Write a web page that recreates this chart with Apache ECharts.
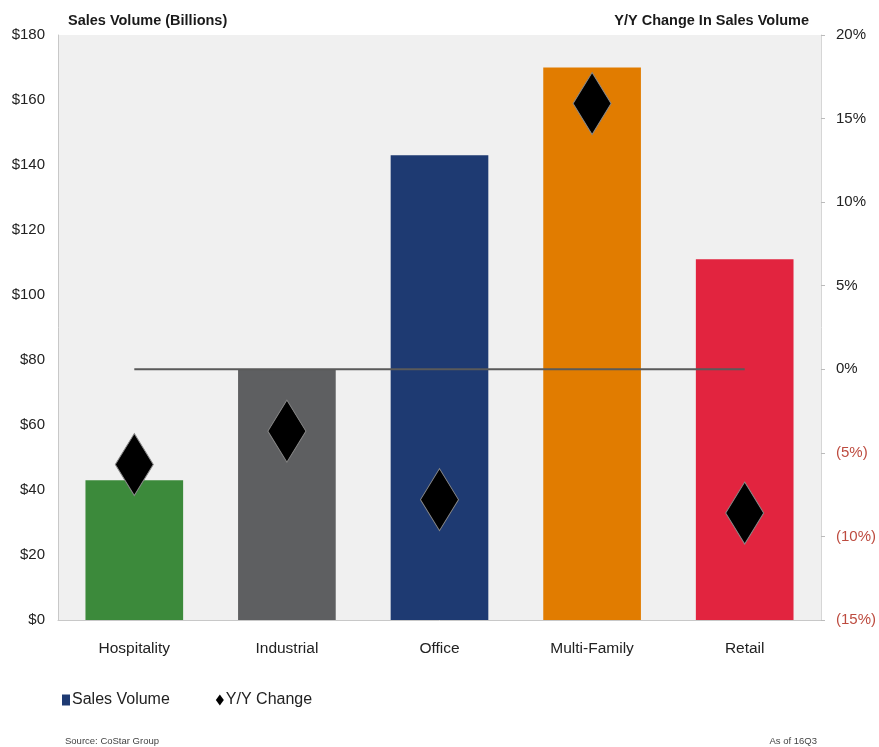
<!DOCTYPE html>
<html>
<head>
<meta charset="utf-8">
<script src="https://cdn.jsdelivr.net/npm/echarts@6/dist/echarts.min.js"></script>
<style>
html,body{margin:0;padding:0;background:#fff;}
#c{width:879px;height:747px;}
</style>
</head>
<body>
<div id="c"></div>
<script>
var categories = ['Hospitality', 'Industrial', 'Office', 'Multi-Family', 'Retail'];
var salesVolume = [43, 77, 143, 170, 111];
var yoyChange = [-5.7, -3.7, -7.8, 15.9, -8.6];
var zeroLine = [0, 0, 0, 0, 0];
var barColors = ['#3c8a3b', '#5e5f61', '#1e3a72', '#e17c00', '#e2243f'];
var leftTicks = { min: 0, max: 180, interval: 20 };
var rightTicks = { min: -15, max: 20, interval: 5 };

var FONT = '"Liberation Sans Narrow", "Arial Narrow", "Liberation Sans", Arial, sans-serif';
var chart = echarts.init(document.getElementById('c'), null, { renderer: 'canvas' });
chart.setOption({
  backgroundColor: '#ffffff',
  animation: false,
  textStyle: { fontFamily: FONT },
  title: [
    { text: 'Sales Volume (Billions)', left: 63, top: 8,
      textStyle: { fontFamily: FONT, fontSize: 14.5, fontWeight: 'bold', color: '#1a1a1a' } },
    { text: 'Y/Y Change In Sales Volume', right: 65, top: 8,
      textStyle: { fontFamily: FONT, fontSize: 14.5, fontWeight: 'bold', color: '#1a1a1a' } },
    { text: 'Source: CoStar Group', left: 60, top: 731,
      textStyle: { fontFamily: FONT, fontSize: 9.5, fontWeight: 'normal', color: '#444' } },
    { text: 'As of 16Q3', right: 57, top: 731,
      textStyle: { fontFamily: FONT, fontSize: 9.5, fontWeight: 'normal', color: '#444' } }
  ],
  legend: {
    left: 57, top: 687, itemGap: 46, itemWidth: 8, itemHeight: 11,
    textStyle: { fontFamily: FONT, fontSize: 16, color: '#222', padding: [0, 0, 0, -3] },
    data: [
      { name: 'Sales Volume', icon: 'rect', itemStyle: { color: '#1e3a72' } },
      { name: 'Y/Y Change', icon: 'diamond', itemStyle: { color: '#000', borderWidth: 0 } }
    ]
  },
  grid: {
    left: 58, right: 57, top: 35, bottom: 127,
    show: true, backgroundColor: '#f0f0f0', borderWidth: 0
  },
  xAxis: {
    type: 'category', data: categories,
    axisLine: { show: true, lineStyle: { color: '#c8c8c8', width: 1 } },
    axisTick: { show: false },
    axisLabel: { fontFamily: FONT, fontSize: 15.5, color: '#222', margin: 21 }
  },
  yAxis: [
    { type: 'value', min: leftTicks.min, max: leftTicks.max, interval: leftTicks.interval,
      axisLine: { show: true, lineStyle: { color: '#c8c8c8' } },
      axisTick: { show: false },
      splitLine: { show: false },
      axisLabel: { fontFamily: FONT, fontSize: 15, color: '#222', margin: 13,
        formatter: function (v) { return '$' + v; } } },
    { type: 'value', min: rightTicks.min, max: rightTicks.max, interval: rightTicks.interval,
      position: 'right',
      axisLine: { show: true, lineStyle: { color: '#d6d6d6' } },
      axisTick: { show: true, length: 4, lineStyle: { color: '#bbb' } },
      splitLine: { show: false },
      axisLabel: { fontFamily: FONT, fontSize: 15, margin: 15,
        color: function (v) { return Number(v) < 0 ? '#bd4b3f' : '#222'; },
        formatter: function (v) { return v < 0 ? '(' + (-v) + '%)' : v + '%'; } } }
  ],
  series: [
    { name: 'Sales Volume', type: 'bar', yAxisIndex: 0, barWidth: '64%', z: 2,
      data: salesVolume.map(function (v, i) { return { value: v, itemStyle: { color: barColors[i] } }; }) },
    { name: 'zero', type: 'line', yAxisIndex: 1, data: zeroLine, symbol: 'none', z: 3,
      lineStyle: { color: '#5a5a5a', width: 2 }, silent: true },
    { name: 'Y/Y Change', type: 'scatter', yAxisIndex: 1, data: yoyChange, z: 4,
      symbol: 'diamond', symbolSize: [38, 62],
      itemStyle: { color: '#000', opacity: 1, borderColor: '#8a8a8a', borderWidth: 1 } }
  ]
});
</script>
</body>
</html>
